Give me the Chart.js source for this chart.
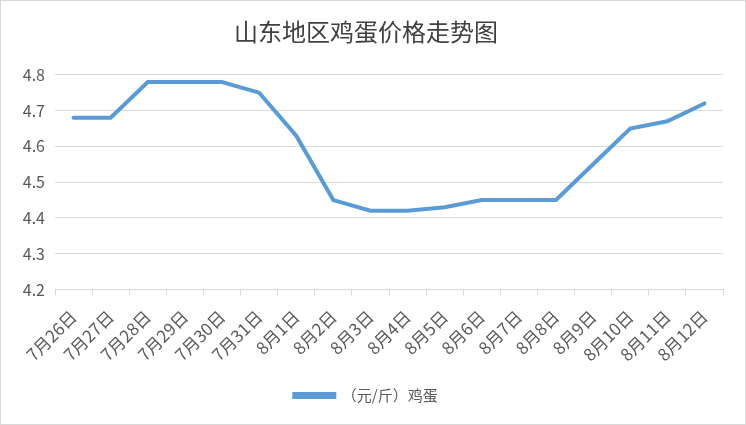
<!DOCTYPE html>
<html>
<head>
<meta charset="utf-8">
<script src="https://cdn.jsdelivr.net/npm/chart.js@4/dist/chart.umd.min.js"></script>
<style>
  html, body { margin: 0; padding: 0; background: #fff; }
  #wrap { position: relative; width: 744px; height: 423px; border: 1px solid #d9d9d9; }
</style>
</head>
<body>
<div id="wrap"><canvas id="eggChart"></canvas></div>
<script>
const chartTitle = "山东地区鸡蛋价格走势图";
const seriesName = "（元/斤）鸡蛋";
const dates = ["7月26日", "7月27日", "7月28日", "7月29日", "7月30日", "7月31日",
  "8月1日", "8月2日", "8月3日", "8月4日", "8月5日", "8月6日",
  "8月7日", "8月8日", "8月9日", "8月10日", "8月11日", "8月12日"];
const prices = [4.68, 4.68, 4.78, 4.78, 4.78, 4.75,
  4.63, 4.45, 4.42, 4.42, 4.43, 4.45,
  4.45, 4.45, 4.55, 4.65, 4.67, 4.72];
const yMin = 4.2, yMax = 4.8, yStep = 0.1;

document.addEventListener("DOMContentLoaded", function () {
    const ctx = document.getElementById("eggChart").getContext("2d");
    const font = "'Noto Sans CJK SC', 'Noto Sans', sans-serif";

    new Chart(ctx, {
        type: 'line',
        data: {
            labels: dates,
            datasets: [{
                label: seriesName,
                data: prices,
                borderColor: '#5b9bd5',
                backgroundColor: '#5b9bd5',
                borderWidth: 4,
                tension: 0,
                fill: false,
                pointRadius: 0,
                borderCapStyle: 'round'
            }]
        },
        options: {
            responsive: true,
            maintainAspectRatio: false,
            animation: false,
            layout: { padding: { left: 8, right: 22, top: 4, bottom: 11 } },
            plugins: {
                title: {
                    display: true,
                    text: chartTitle,
                    color: '#404040',
                    font: { family: font, size: 24, weight: 'normal' },
                    padding: { top: 12, bottom: 29 }
                },
                legend: {
                    position: 'bottom',
                    labels: {
                        boxWidth: 40,
                        boxHeight: 3,
                        color: '#595959',
                        font: { family: font, size: 15 },
                        padding: 12
                    }
                },
                tooltip: { enabled: false }
            },
            scales: {
                x: {
                    offset: true,
                    grid: {
                        display: true,
                        offset: true,
                        drawOnChartArea: false,
                        drawTicks: true,
                        tickLength: 6,
                        color: '#d9d9d9'
                    },
                    border: { color: '#d9d9d9' },
                    ticks: {
                        color: '#595959',
                        font: { family: font, size: 17 },
                        minRotation: 45,
                        maxRotation: 45,
                        autoSkip: false,
                        padding: 11
                    }
                },
                y: {
                    min: yMin,
                    max: yMax,
                    grid: { color: '#d9d9d9', drawTicks: false },
                    border: { display: false },
                    afterFit: function (scale) { scale.width = 46; },
                    ticks: {
                        stepSize: yStep,
                        color: '#595959',
                        font: { family: font, size: 16 },
                        padding: 10,
                        callback: function (v) { return v.toFixed(1); }
                    }
                }
            }
        }
    });
});
</script>
</body>
</html>
